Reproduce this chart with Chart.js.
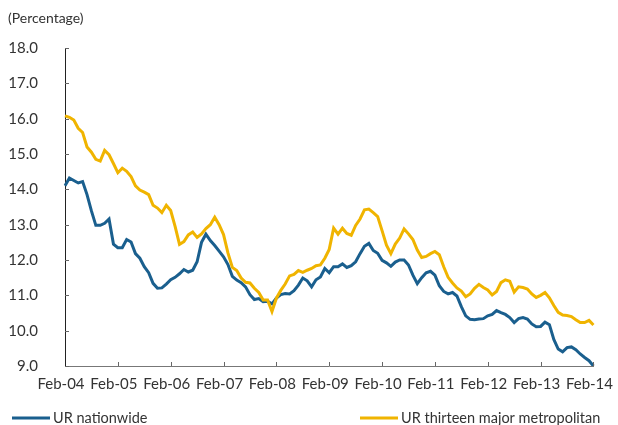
<!DOCTYPE html>
<html>
<head>
<meta charset="utf-8">
<script src="https://cdn.jsdelivr.net/npm/chart.js@4.4.0/dist/chart.umd.min.js"></script>
<style>
  html, body { margin: 0; padding: 0; background: #fff; }
  #wrap { width: 618px; height: 425px; position: relative; }
</style>
</head>
<body>
<div id="wrap"><canvas id="ur"></canvas></div>
<script>
// monthly categories Feb-04 .. Feb-14
const monthNames = ['Feb','Mar','Apr','May','Jun','Jul','Aug','Sep','Oct','Nov','Dec','Jan'];
const years = ['04','05','06','07','08','09','10','11','12','13','14'];
const categories = [];
years.forEach((yr, i) => {
  monthNames.forEach((m, j) => {
    if (i === years.length - 1 && j > 0) return;
    const y = (m === 'Jan') ? years[i + 1] : yr;
    categories.push(m + '-' + y);
  });
});

const tickLabels = ['Feb-04','Feb-05','Feb-06','Feb-07','Feb-08','Feb-09','Feb-10','Feb-11','Feb-12','Feb-13','Feb-14'];
const yTicks = [9, 10, 11, 12, 13, 14, 15, 16, 17, 18];
const unitLabel = '(Percentage)';

const seriesNames = ['UR nationwide', 'UR thirteen major metropolitan'];

const urNationwide = [
  14.10, 14.32, 14.25, 14.18, 14.22, 13.85, 13.39, 12.98, 12.98, 13.04, 13.16, 12.45,
  12.35, 12.35, 12.58, 12.51, 12.18, 12.05, 11.81, 11.64, 11.34, 11.20, 11.21, 11.32,
  11.44, 11.51, 11.61, 11.73, 11.66, 11.71, 11.95, 12.50, 12.73, 12.55, 12.41, 12.25,
  12.09, 11.87, 11.54, 11.43, 11.36, 11.24, 11.02, 10.88, 10.91, 10.82, 10.83, 10.76,
  10.92, 11.02, 11.05, 11.04, 11.13, 11.29, 11.49, 11.41, 11.24, 11.44, 11.52, 11.76,
  11.64, 11.81, 11.81, 11.89, 11.79, 11.84, 11.95, 12.18, 12.39, 12.47, 12.27, 12.19,
  11.99, 11.92, 11.82, 11.94, 12.00, 12.00, 11.86, 11.57, 11.33, 11.50, 11.64, 11.68,
  11.57, 11.27, 11.11, 11.04, 11.08, 10.98, 10.68, 10.42, 10.32, 10.31, 10.33, 10.34,
  10.42, 10.46, 10.57, 10.51, 10.46, 10.37, 10.23, 10.34, 10.37, 10.33, 10.19, 10.11,
  10.12, 10.24, 10.17, 9.75, 9.48, 9.40, 9.52, 9.54, 9.46, 9.34, 9.24, 9.15,
  9.00
];

const urMetro = [
  16.08, 16.04, 15.96, 15.73, 15.61, 15.20, 15.05, 14.85, 14.80, 15.10, 14.98, 14.73,
  14.47, 14.60, 14.51, 14.36, 14.10, 13.98, 13.92, 13.85, 13.55, 13.47, 13.34, 13.55,
  13.40, 12.95, 12.44, 12.52, 12.71, 12.79, 12.64, 12.74, 12.89, 13.00, 13.21, 13.00,
  12.72, 12.20, 11.79, 11.70, 11.49, 11.37, 11.35, 11.20, 11.08, 10.87, 10.87, 10.54,
  10.92, 11.14, 11.32, 11.55, 11.59, 11.70, 11.65, 11.71, 11.76, 11.84, 11.86, 12.05,
  12.30, 12.90, 12.73, 12.90, 12.75, 12.70, 12.98, 13.16, 13.42, 13.44, 13.34, 13.23,
  12.83, 12.42, 12.18, 12.45, 12.62, 12.88, 12.74, 12.58, 12.28, 12.07, 12.10, 12.18,
  12.24, 12.15, 11.81, 11.51, 11.35, 11.21, 11.12, 10.96, 11.04, 11.20, 11.31, 11.22,
  11.15, 11.01, 11.11, 11.36, 11.44, 11.40, 11.09, 11.24, 11.22, 11.18, 11.04, 10.94,
  11.00, 11.08, 10.93, 10.71, 10.52, 10.44, 10.43, 10.40, 10.31, 10.23, 10.23, 10.29,
  10.16
];

const blue = '#1a5f8e';
const gold = '#f0b400';
const textColor = '#333333';

// inward tick marks, unit caption and the two-sided legend
const extras = {
  id: 'extras',
  afterDraw(chart) {
    const ctx = chart.ctx;
    const xs = chart.scales.x, ys = chart.scales.y;
    ctx.save();
    ctx.strokeStyle = '#666';
    ctx.lineWidth = 1;
    ctx.beginPath();
    categories.forEach((c, i) => {
      if (i % 12 === 0 && i > 0) {
        const px = Math.round(xs.getPixelForValue(i)) + 0.5;
        ctx.moveTo(px, ys.bottom);
        ctx.lineTo(px, ys.bottom - 4);
      }
    });
    yTicks.forEach(v => {
      const py = Math.round(ys.getPixelForValue(v)) + 0.5;
      ctx.moveTo(xs.left, py);
      ctx.lineTo(xs.left + 4, py);
    });
    ctx.stroke();

    ctx.fillStyle = textColor;
    ctx.font = '14px Lato';
    ctx.textBaseline = 'middle';
    ctx.fillText(unitLabel, 8, 18);

    const items = [
      {x: 12, color: blue, text: seriesNames[0]},
      {x: 360, color: gold, text: seriesNames[1]}
    ];
    ctx.font = '14.5px Lato';
    items.forEach(it => {
      ctx.strokeStyle = it.color;
      ctx.lineWidth = 3;
      ctx.beginPath();
      ctx.moveTo(it.x, 418);
      ctx.lineTo(it.x + 38, 418);
      ctx.stroke();
      ctx.fillStyle = textColor;
      ctx.fillText(it.text, it.x + 41, 418);
    });
    ctx.restore();
  }
};

new Chart(document.getElementById('ur'), {
  type: 'line',
  data: {
    labels: categories,
    datasets: [
      {
        label: seriesNames[1],
        data: urMetro,
        borderColor: gold,
        borderWidth: 3,
        pointRadius: 0,
        tension: 0
      },
      {
        label: seriesNames[0],
        data: urNationwide,
        borderColor: blue,
        borderWidth: 3,
        pointRadius: 0,
        tension: 0
      }
    ]
  },
  options: {
    responsive: true,
    maintainAspectRatio: false,
    animation: false,
    layout: {padding: {top: 48, right: 24, bottom: 19, left: 0}},
    plugins: {
      legend: {display: false},
      tooltip: {enabled: false}
    },
    scales: {
      x: {
        offset: false,
        grid: {display: false},
        border: {display: true, color: '#777', width: 1},
        afterFit: (scale) => { scale.height = 40; },
        ticks: {
          autoSkip: false,
          maxRotation: 0,
          padding: 1,
          labelOffset: -4,
          color: textColor,
          font: {family: 'Lato', size: 15},
          callback: (val, i) => (i % 12 === 0 ? tickLabels[i / 12] : null)
        }
      },
      y: {
        min: 9,
        max: 18,
        grid: {display: false},
        border: {display: true, color: '#222', width: 1},
        afterFit: (scale) => { scale.width = 65; },
        ticks: {
          stepSize: 1,
          padding: 19,
          color: textColor,
          font: {family: 'Lato', size: 15},
          callback: (v) => v.toFixed(1)
        }
      }
    }
  },
  plugins: [extras]
});
</script>
</body>
</html>
